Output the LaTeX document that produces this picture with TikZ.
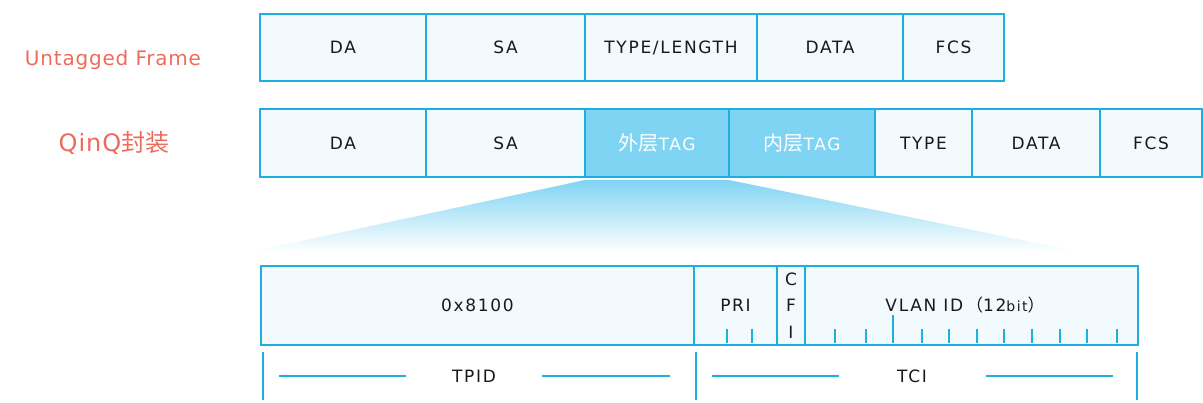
\documentclass[tikz,border=0pt]{standalone}
\usepackage{fontspec}
\setmainfont{DejaVu Sans}
\newfontfamily\boxfont[LetterSpace=10]{DejaVu Sans}
\newfontfamily\labelfont[LetterSpace=4]{DejaVu Sans}
\newfontfamily\cjk{Noto Sans CJK SC}
\usetikzlibrary{positioning}
\definecolor{qblue}{RGB}{29,174,226}
\definecolor{qlight}{RGB}{243,250,254}
\definecolor{qtag}{RGB}{128,212,243}
\definecolor{qred}{RGB}{238,107,91}
\definecolor{qtext}{RGB}{25,25,25}
\tikzset{
	field/.style={draw=qblue, fill=qlight, line width=2pt, inner sep=0pt, text=qtext,
		font=\boxfont\fontsize{17}{20}\selectfont},
	tagfield/.style={field, fill=qtag, text=white},
	rowlabel/.style={text=qred, inner sep=0pt},
	bitmark/.style={draw=qblue, line width=2pt},
}

\begin{document}
\begin{tikzpicture}[x=1pt, y=-1pt]
		%%%%% START %%%%%
		\useasboundingbox (0, 0) rectangle (1203, 403);
		
		% row labels
		\node[rowlabel, font=\labelfont\fontsize{20}{24}\selectfont] (untagged) at (113, 60) {Untagged Frame};
		\node[rowlabel, font=\labelfont\fontsize{24}{28}\selectfont] (qinq) at (114, 143) {QinQ{\cjk 封装}};
		
		% untagged frame
		\node[field, minimum width=166pt, minimum height=67pt] (uda) at (343, 47.5) {DA};
		\node[field, minimum width=159pt, minimum height=67pt] (usa) at (505.5, 47.5) {SA};
		\node[field, minimum width=172pt, minimum height=67pt] (utype) at (671, 47.5) {TYPE/LENGTH};
		\node[field, minimum width=146pt, minimum height=67pt] (udata) at (830, 47.5) {DATA};
		\node[field, minimum width=101pt, minimum height=67pt] (ufcs) at (953.5, 47.5) {FCS};
		
		% zoom shade
		\shade[top color=qtag, bottom color=white] (585, 180) -- (729, 180) -- (1080, 252) -- (250, 252) -- cycle;
		
		% qinq frame
		\node[field, minimum width=166pt, minimum height=68pt] (qda) at (343, 143) {DA};
		\node[field, minimum width=159pt, minimum height=68pt] (qsa) at (505.5, 143) {SA};
		\node[tagfield, minimum width=144pt, minimum height=68pt] (outer) at (657, 143) {{\cjk\fontsize{20}{22}\selectfont 外层}TAG};
		\node[tagfield, minimum width=146pt, minimum height=68pt] (inner) at (802, 143) {{\cjk\fontsize{20}{22}\selectfont 内层}TAG};
		\node[field, minimum width=97pt, minimum height=68pt] (qtype) at (923.5, 143) {TYPE};
		\node[field, minimum width=128pt, minimum height=68pt] (qdata) at (1036, 143) {DATA};
		\node[field, minimum width=102pt, minimum height=68pt] (qfcs) at (1151, 143) {FCS};
		
		% tag fields
		\node[field, minimum width=433pt, minimum height=79pt] (tpidbox) at (477.5, 305.5) {0x8100};
		\node[field, minimum width=83pt, minimum height=79pt] (pri) at (735.5, 305.5) {PRI};
		\node[field, minimum width=28pt, minimum height=79pt, align=center,
			font=\boxfont\fontsize{17}{26.5}\selectfont] (cfi) at (791, 305.5) {C\\F\\I};
		\node[field, minimum width=333pt, minimum height=79pt] (vlan) at (971.5, 305.5) {};
		\node[text=qtext, inner sep=0pt, font=\boxfont\fontsize{17}{20}\selectfont] (vlanid) at (965, 305) {VLAN ID\,{\cjk（}12{\fontsize{14}{16}\selectfont bit}{\cjk）}};
		
		\draw[bitmark] (727, 329) -- (727, 343);
		\draw[bitmark] (752, 329) -- (752, 343);
		\draw[bitmark] (835, 329) -- (835, 343);
		\draw[bitmark] (866, 329) -- (866, 343);
		\draw[bitmark] (893, 315) -- (893, 343);
		\draw[bitmark] (922, 329) -- (922, 343);
		\draw[bitmark] (949, 329) -- (949, 343);
		\draw[bitmark] (977, 329) -- (977, 343);
		\draw[bitmark] (1004, 329) -- (1004, 343);
		\draw[bitmark] (1032, 329) -- (1032, 343);
		\draw[bitmark] (1060, 329) -- (1060, 343);
		\draw[bitmark] (1087, 329) -- (1087, 343);
		\draw[bitmark] (1117, 329) -- (1117, 343);
		
		% braces below
		\node[text=qtext, font=\boxfont\fontsize{17}{20}\selectfont] (tpid) at (474, 376) {TPID};
		\node[text=qtext, font=\boxfont\fontsize{17}{20}\selectfont] (tci) at (912, 376) {TCI};
		
		\draw[bitmark] (263, 352) -- (263, 400);
		\draw[bitmark] (696, 352) -- (696, 400);
		\draw[bitmark] (1137, 352) -- (1137, 400);
		\draw[bitmark] (279, 376) -- (406, 376);
		\draw[bitmark] (542, 376) -- (670, 376);
		\draw[bitmark] (712, 376) -- (839, 376);
		\draw[bitmark] (986, 376) -- (1113, 376);
		
		%%%%% END %%%%%
\end{tikzpicture}
\end{document}
